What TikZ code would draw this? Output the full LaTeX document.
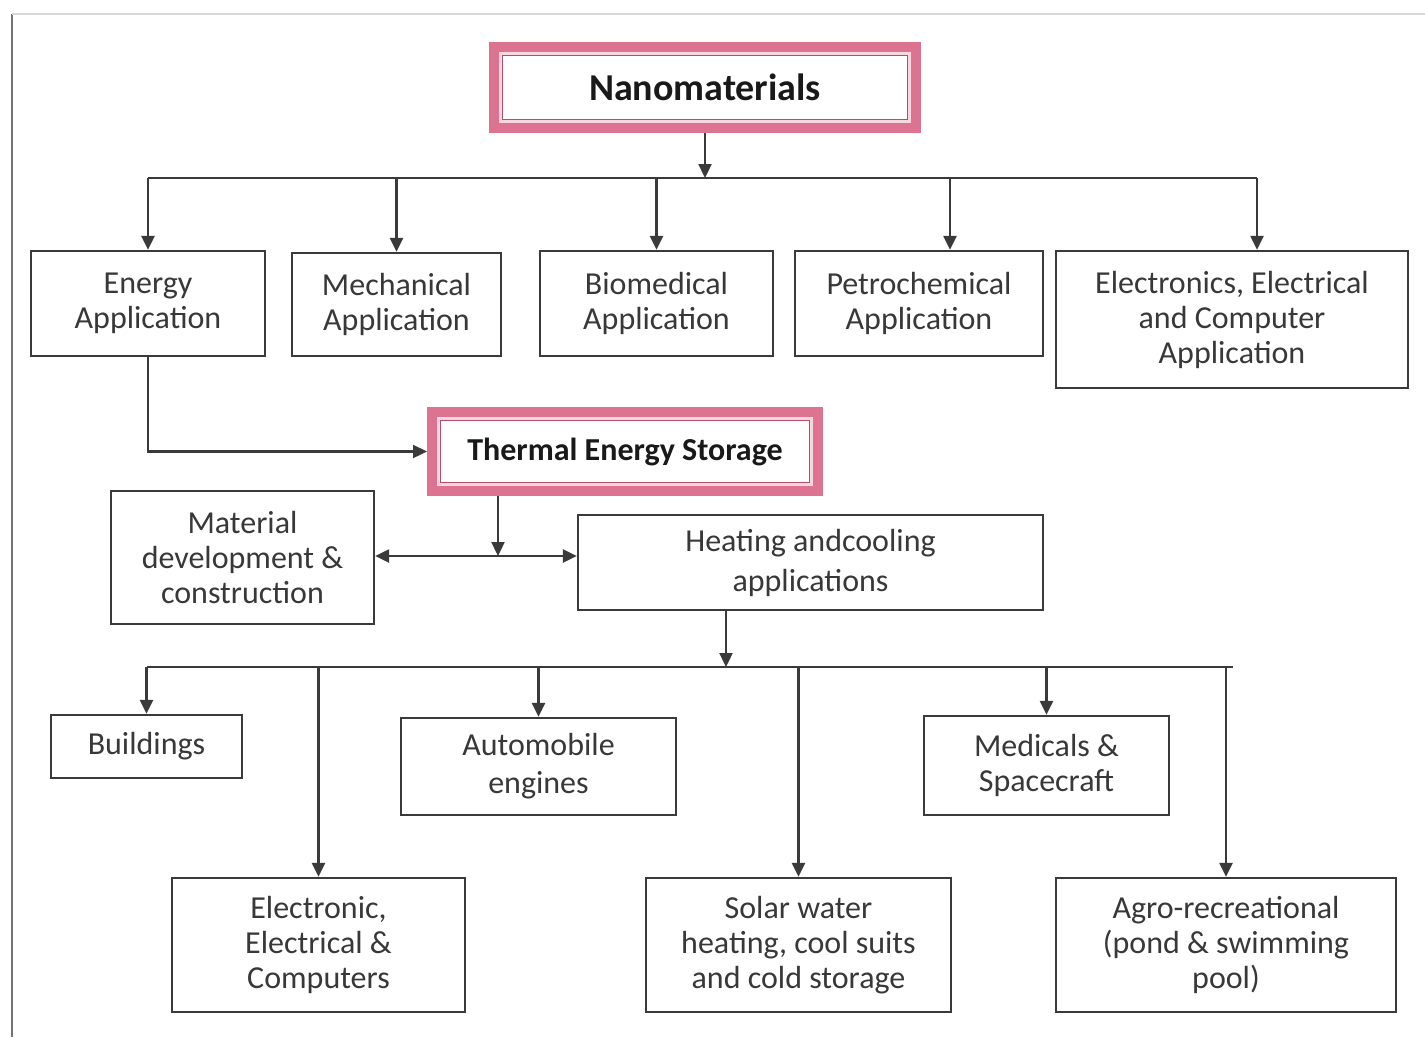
\documentclass[tikz,border=0pt]{standalone}
\usepackage{fontspec}
\setmainfont{Carlito}
\usetikzlibrary{arrows.meta}
\definecolor{linec}{HTML}{3A3A3A}
\definecolor{textc}{HTML}{383838}
\definecolor{pinkc}{HTML}{DB7391}
\definecolor{pinklt}{HTML}{F6D6DF}
\definecolor{pinkdk}{HTML}{B94C6C}
\begin{document}
\begin{tikzpicture}[x=1pt,y=-1pt,
  box/.style={draw=linec, line width=2.3pt, fill=white, text=textc, align=center,
    font=\fontsize{32}{35}\selectfont, inner sep=0pt},
  titlebox/.style={draw=pinkc, line width=10pt, fill=white, text=black!90, align=center, inner sep=0pt},
  conn/.style={draw=linec, line width=2.3pt},
  arr/.style={conn, -{Triangle[length=14pt,width=13pt]}},
  arrtwo/.style={conn, {Triangle[length=14pt,width=13pt]}-{Triangle[length=14pt,width=13pt]}},
  gapline/.style={draw=pinklt, line width=3pt},
  thinline/.style={draw=pinkdk, line width=1.2pt}
]
\useasboundingbox (0,0) rectangle (1425,1037);
% frame
\draw[draw=black!55, line width=2pt] (12,14) -- (12,1037);
\draw[draw=black!15, line width=1.5pt] (12,14) -- (1425,14);

% title boxes
\node[titlebox, minimum width=422pt, minimum height=81pt, font=\bfseries\fontsize{38}{42}\selectfont] (nano) at (705,87.5) {Nanomaterials};
\draw[gapline] ([shift={(11.5,11.5)}]nano.north west) rectangle ([shift={(-11.5,-11.5)}]nano.south east);
\draw[thinline] ([shift={(13.5,13.5)}]nano.north west) rectangle ([shift={(-13.5,-13.5)}]nano.south east);

\node[titlebox, minimum width=386pt, minimum height=79pt, font=\bfseries\fontsize{32}{36}\selectfont] (therm) at (625,451.5) {Thermal Energy Storage};
\draw[gapline] ([shift={(11.5,11.5)}]therm.north west) rectangle ([shift={(-11.5,-11.5)}]therm.south east);
\draw[thinline] ([shift={(13.5,13.5)}]therm.north west) rectangle ([shift={(-13.5,-13.5)}]therm.south east);

% first level
\node[box, minimum width=234pt, minimum height=105pt] (energy) at (148,303.5) {Energy\\Application};
\node[box, minimum width=209pt, minimum height=103pt] (mech) at (396.5,304.5) {Mechanical\\Application};
\node[box, minimum width=233pt, minimum height=105pt] (bio) at (656.5,303.5) {Biomedical\\Application};
\node[box, minimum width=248pt, minimum height=105pt] (petro) at (919,303.5) {Petrochemical\\Application};
\node[box, minimum width=352pt, minimum height=137pt] (elec) at (1232,319.5) {Electronics, Electrical\\and Computer\\Application};

% middle
\node[box, minimum width=263pt, minimum height=133pt] (mat) at (242.5,557.5) {Material\\development \&\\construction};
\node[box, minimum width=465pt, minimum height=95pt] (heat) at (810.5,562.5) {Heating andcooling\\[5pt]applications};

% bottom level
\node[box, minimum width=191pt, minimum height=63pt] (build) at (146.5,746.5) {Buildings};
\node[box, minimum width=275pt, minimum height=97pt] (auto) at (538.5,766.5) {Automobile\\[3pt]engines};
\node[box, minimum width=245pt, minimum height=99pt] (med) at (1046.5,765.5) {Medicals \&\\Spacecraft};
\node[box, minimum width=293pt, minimum height=134pt] (ecomp) at (318.5,945) {Electronic,\\Electrical \&\\Computers};
\node[box, minimum width=305pt, minimum height=134pt] (solar) at (798.5,945) {Solar water\\heating, cool suits\\and cold storage};
\node[box, minimum width=340pt, minimum height=134pt] (agro) at (1226,945) {Agro-recreational\\(pond \& swimming\\pool)};

% connectors, level 1
\coordinate (bus1) at (705,178);
\coordinate (bus1L) at (148,178);
\coordinate (bus1R) at (1257,178);
\draw[arr] (nano.south) -- (bus1);
\draw[conn] (bus1L) -- (bus1R);
\draw[arr] (energy.north |- bus1) -- (energy.north);
\draw[arr] (mech.north |- bus1) -- (mech.north);
\draw[arr] (bio.north |- bus1) -- (bio.north);
\draw[arr] ([xshift=31pt]petro.north |- bus1) -- ([xshift=31pt]petro.north);
\draw[arr] (bus1R) -- ([xshift=25pt]elec.north);

% energy to thermal
\draw[arr] (energy.south) |- (therm.west);

% thermal to middle
\coordinate (j1) at (498,556);
\draw[arr] ([xshift=-127pt]therm.south) -- (j1);
\draw[arrtwo] (mat.east |- j1) -- (heat.west |- j1);

% heating to bottom
\coordinate (j2) at (726,667);
\coordinate (bus2L) at (147,667);
\coordinate (bus2R) at (1233,667);
\draw[arr] ([xshift=-84.5pt]heat.south) -- (j2);
\draw[conn] (bus2L) -- (bus2R);
\draw[arr] (build.north |- j2) -- (build.north);
\draw[arr] (auto.north |- j2) -- (auto.north);
\draw[arr] (med.north |- j2) -- (med.north);
\draw[arr] (ecomp.north |- j2) -- (ecomp.north);
\draw[arr] (solar.north |- j2) -- (solar.north);
\draw[arr] (agro.north |- j2) -- (agro.north);
\end{tikzpicture}
\end{document}
